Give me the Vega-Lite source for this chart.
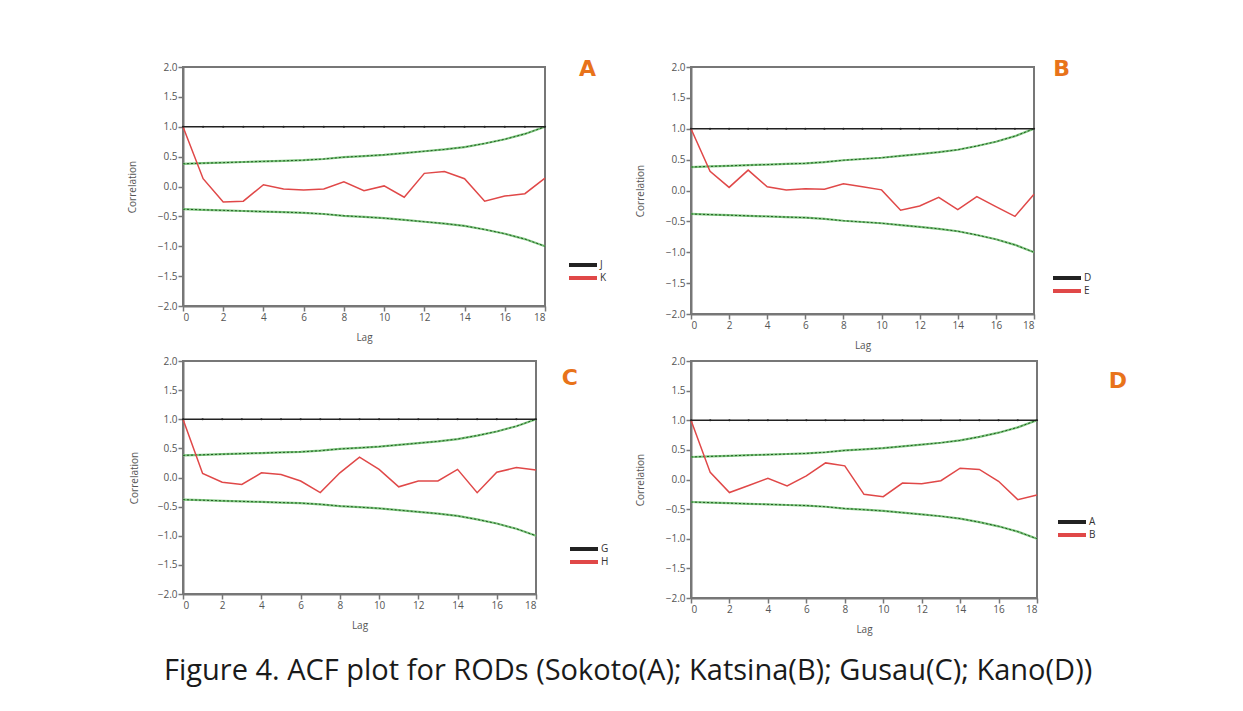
{
  "$schema": "https://vega.github.io/schema/vega-lite/v6.json",
  "background": "white",
  "padding": {"left": 126, "top": 57, "right": 10, "bottom": 10},
  "title": {"text": "Figure 4. ACF plot for RODs (Sokoto(A); Katsina(B); Gusau(C); Kano(D))", "orient": "bottom", "anchor": "middle", "offset": 22, "dx": 1, "fontSize": 29, "font": "Open Sans", "fontWeight": "normal", "color": "#1a1a1a"},
  "datasets": {
    "bands": [
      {"lag": 0, "upper": 0.38, "lower": -0.38},
      {"lag": 1, "upper": 0.39, "lower": -0.39},
      {"lag": 2, "upper": 0.40, "lower": -0.40},
      {"lag": 3, "upper": 0.41, "lower": -0.41},
      {"lag": 4, "upper": 0.42, "lower": -0.42},
      {"lag": 5, "upper": 0.43, "lower": -0.43},
      {"lag": 6, "upper": 0.44, "lower": -0.44},
      {"lag": 7, "upper": 0.46, "lower": -0.46},
      {"lag": 8, "upper": 0.49, "lower": -0.49},
      {"lag": 9, "upper": 0.51, "lower": -0.51},
      {"lag": 10, "upper": 0.53, "lower": -0.53},
      {"lag": 11, "upper": 0.56, "lower": -0.56},
      {"lag": 12, "upper": 0.59, "lower": -0.59},
      {"lag": 13, "upper": 0.62, "lower": -0.62},
      {"lag": 14, "upper": 0.66, "lower": -0.66},
      {"lag": 15, "upper": 0.72, "lower": -0.72},
      {"lag": 16, "upper": 0.79, "lower": -0.79},
      {"lag": 17, "upper": 0.88, "lower": -0.88},
      {"lag": 18, "upper": 1.0, "lower": -1.0}
    ],
    "sokoto": [
      {"lag": 0, "J": 1, "K": 1.0}, {"lag": 1, "J": 1, "K": 0.13}, {"lag": 2, "J": 1, "K": -0.26},
      {"lag": 3, "J": 1, "K": -0.245}, {"lag": 4, "J": 1, "K": 0.03}, {"lag": 5, "J": 1, "K": -0.04},
      {"lag": 6, "J": 1, "K": -0.06}, {"lag": 7, "J": 1, "K": -0.04}, {"lag": 8, "J": 1, "K": 0.08},
      {"lag": 9, "J": 1, "K": -0.07}, {"lag": 10, "J": 1, "K": 0.01}, {"lag": 11, "J": 1, "K": -0.18},
      {"lag": 12, "J": 1, "K": 0.22}, {"lag": 13, "J": 1, "K": 0.25}, {"lag": 14, "J": 1, "K": 0.13},
      {"lag": 15, "J": 1, "K": -0.245}, {"lag": 16, "J": 1, "K": -0.16}, {"lag": 17, "J": 1, "K": -0.12},
      {"lag": 18, "J": 1, "K": 0.14}
    ],
    "katsina": [
      {"lag": 0, "D": 1, "E": 1.0}, {"lag": 1, "D": 1, "E": 0.31}, {"lag": 2, "D": 1, "E": 0.05},
      {"lag": 3, "D": 1, "E": 0.33}, {"lag": 4, "D": 1, "E": 0.06}, {"lag": 5, "D": 1, "E": 0.01},
      {"lag": 6, "D": 1, "E": 0.03}, {"lag": 7, "D": 1, "E": 0.02}, {"lag": 8, "D": 1, "E": 0.11},
      {"lag": 9, "D": 1, "E": 0.06}, {"lag": 10, "D": 1, "E": 0.01}, {"lag": 11, "D": 1, "E": -0.32},
      {"lag": 12, "D": 1, "E": -0.25}, {"lag": 13, "D": 1, "E": -0.11}, {"lag": 14, "D": 1, "E": -0.31},
      {"lag": 15, "D": 1, "E": -0.10}, {"lag": 16, "D": 1, "E": -0.26}, {"lag": 17, "D": 1, "E": -0.42},
      {"lag": 18, "D": 1, "E": -0.06}
    ],
    "gusau": [
      {"lag": 0, "G": 1, "H": 1.0}, {"lag": 1, "G": 1, "H": 0.07}, {"lag": 2, "G": 1, "H": -0.08},
      {"lag": 3, "G": 1, "H": -0.12}, {"lag": 4, "G": 1, "H": 0.08}, {"lag": 5, "G": 1, "H": 0.05},
      {"lag": 6, "G": 1, "H": -0.06}, {"lag": 7, "G": 1, "H": -0.26}, {"lag": 8, "G": 1, "H": 0.08},
      {"lag": 9, "G": 1, "H": 0.35}, {"lag": 10, "G": 1, "H": 0.14}, {"lag": 11, "G": 1, "H": -0.16},
      {"lag": 12, "G": 1, "H": -0.06}, {"lag": 13, "G": 1, "H": -0.06}, {"lag": 14, "G": 1, "H": 0.14},
      {"lag": 15, "G": 1, "H": -0.26}, {"lag": 16, "G": 1, "H": 0.09}, {"lag": 17, "G": 1, "H": 0.17},
      {"lag": 18, "G": 1, "H": 0.13}
    ],
    "kano": [
      {"lag": 0, "A": 1, "B": 1.0}, {"lag": 1, "A": 1, "B": 0.12}, {"lag": 2, "A": 1, "B": -0.22},
      {"lag": 3, "A": 1, "B": -0.10}, {"lag": 4, "A": 1, "B": 0.02}, {"lag": 5, "A": 1, "B": -0.11},
      {"lag": 6, "A": 1, "B": 0.06}, {"lag": 7, "A": 1, "B": 0.28}, {"lag": 8, "A": 1, "B": 0.23},
      {"lag": 9, "A": 1, "B": -0.25}, {"lag": 10, "A": 1, "B": -0.29}, {"lag": 11, "A": 1, "B": -0.06},
      {"lag": 12, "A": 1, "B": -0.07}, {"lag": 13, "A": 1, "B": -0.02}, {"lag": 14, "A": 1, "B": 0.19},
      {"lag": 15, "A": 1, "B": 0.17}, {"lag": 16, "A": 1, "B": -0.03}, {"lag": 17, "A": 1, "B": -0.34},
      {"lag": 18, "A": 1, "B": -0.26}
    ]
  },
  "columns": 2,
  "align": "none",
  "spacing": {"row": 4, "column": 24},
  "resolve": {"scale": {"color": "independent"}, "legend": {"color": "independent"}},
  "concat": [
    {
      "width": 362, "height": 239,
      "title": {"text": "A", "anchor": "end", "frame": "group", "dx": 51, "dy": 23, "fontSize": 22, "font": "DejaVu Sans", "fontWeight": "bold", "color": "#e8731a"},
      "encoding": {
        "x": {"field": "lag", "type": "quantitative", "title": "Lag", "scale": {"domain": [0, 18], "nice": false}, "axis": {"values": [0, 2, 4, 6, 8, 10, 12, 14, 16, 18], "titlePadding": 10}},
        "y": {"field": "value", "type": "quantitative", "title": "Correlation", "scale": {"domain": [-2, 2], "nice": false}, "axis": {"values": [-2, -1.5, -1, -0.5, 0, 0.5, 1, 1.5, 2], "format": ".1f", "labelOverlap": false, "titlePadding": 20}}
      },
      "layer": [
        {"data": {"name": "bands"}, "transform": [{"fold": ["upper", "lower"], "as": ["bound", "value"]}], "mark": {"type": "line", "color": "#7cc47c", "strokeWidth": 2.2}, "encoding": {"detail": {"field": "bound"}}},
        {"data": {"name": "bands"}, "transform": [{"fold": ["upper", "lower"], "as": ["bound", "value"]}], "mark": {"type": "line", "color": "#1f5a1f", "strokeWidth": 1, "strokeDash": [2, 2]}, "encoding": {"detail": {"field": "bound"}}},
        {"data": {"name": "sokoto"}, "transform": [{"fold": ["J", "K"], "as": ["series", "value"]}], "mark": {"type": "line", "strokeWidth": 1.5}, "encoding": {"color": {"field": "series", "type": "nominal", "scale": {"domain": ["J", "K"], "range": ["#222222", "#e04848"]}, "legend": {"title": null, "orient": "none", "legendX": 384, "legendY": 192, "symbolStrokeWidth": 4}}}},
        {"data": {"name": "sokoto"}, "transform": [{"fold": ["J"], "as": ["series", "value"]}], "mark": {"type": "point", "filled": true, "size": 5, "color": "#222222", "opacity": 1}, "encoding": {}}
      ]
    },
    {
      "width": 343, "height": 247,
      "title": {"text": "B", "anchor": "end", "frame": "group", "dx": 36, "dy": 23, "fontSize": 22, "font": "DejaVu Sans", "fontWeight": "bold", "color": "#e8731a"},
      "encoding": {
        "x": {"field": "lag", "type": "quantitative", "title": "Lag", "scale": {"domain": [0, 18], "nice": false}, "axis": {"values": [0, 2, 4, 6, 8, 10, 12, 14, 16, 18], "titlePadding": 10}},
        "y": {"field": "value", "type": "quantitative", "title": "Correlation", "scale": {"domain": [-2, 2], "nice": false}, "axis": {"values": [-2, -1.5, -1, -0.5, 0, 0.5, 1, 1.5, 2], "format": ".1f", "labelOverlap": false, "titlePadding": 20}}
      },
      "layer": [
        {"data": {"name": "bands"}, "transform": [{"fold": ["upper", "lower"], "as": ["bound", "value"]}], "mark": {"type": "line", "color": "#7cc47c", "strokeWidth": 2.2}, "encoding": {"detail": {"field": "bound"}}},
        {"data": {"name": "bands"}, "transform": [{"fold": ["upper", "lower"], "as": ["bound", "value"]}], "mark": {"type": "line", "color": "#1f5a1f", "strokeWidth": 1, "strokeDash": [2, 2]}, "encoding": {"detail": {"field": "bound"}}},
        {"data": {"name": "katsina"}, "transform": [{"fold": ["D", "E"], "as": ["series", "value"]}], "mark": {"type": "line", "strokeWidth": 1.5}, "encoding": {"color": {"field": "series", "type": "nominal", "scale": {"domain": ["D", "E"], "range": ["#222222", "#e04848"]}, "legend": {"title": null, "orient": "none", "legendX": 360, "legendY": 205, "symbolStrokeWidth": 4}}}},
        {"data": {"name": "katsina"}, "transform": [{"fold": ["D"], "as": ["series", "value"]}], "mark": {"type": "point", "filled": true, "size": 5, "color": "#222222", "opacity": 1}, "encoding": {}}
      ]
    },
    {
      "width": 353, "height": 233,
      "title": {"text": "C", "anchor": "end", "frame": "group", "dx": 42, "dy": 38, "fontSize": 22, "font": "DejaVu Sans", "fontWeight": "bold", "color": "#e8731a"},
      "encoding": {
        "x": {"field": "lag", "type": "quantitative", "title": "Lag", "scale": {"domain": [0, 18], "nice": false}, "axis": {"values": [0, 2, 4, 6, 8, 10, 12, 14, 16, 18], "titlePadding": 10}},
        "y": {"field": "value", "type": "quantitative", "title": "Correlation", "scale": {"domain": [-2, 2], "nice": false}, "axis": {"values": [-2, -1.5, -1, -0.5, 0, 0.5, 1, 1.5, 2], "format": ".1f", "labelOverlap": false, "titlePadding": 18}}
      },
      "layer": [
        {"data": {"name": "bands"}, "transform": [{"fold": ["upper", "lower"], "as": ["bound", "value"]}], "mark": {"type": "line", "color": "#7cc47c", "strokeWidth": 2.2}, "encoding": {"detail": {"field": "bound"}}},
        {"data": {"name": "bands"}, "transform": [{"fold": ["upper", "lower"], "as": ["bound", "value"]}], "mark": {"type": "line", "color": "#1f5a1f", "strokeWidth": 1, "strokeDash": [2, 2]}, "encoding": {"detail": {"field": "bound"}}},
        {"data": {"name": "gusau"}, "transform": [{"fold": ["G", "H"], "as": ["series", "value"]}], "mark": {"type": "line", "strokeWidth": 1.5}, "encoding": {"color": {"field": "series", "type": "nominal", "scale": {"domain": ["G", "H"], "range": ["#222222", "#e04848"]}, "legend": {"title": null, "orient": "none", "legendX": 385, "legendY": 182, "symbolStrokeWidth": 4}}}},
        {"data": {"name": "gusau"}, "transform": [{"fold": ["G"], "as": ["series", "value"]}], "mark": {"type": "point", "filled": true, "size": 5, "color": "#222222", "opacity": 1}, "encoding": {}}
      ]
    },
    {
      "width": 346, "height": 237,
      "title": {"text": "D", "anchor": "end", "frame": "group", "dx": 90, "dy": 41, "fontSize": 22, "font": "DejaVu Sans", "fontWeight": "bold", "color": "#e8731a"},
      "encoding": {
        "x": {"field": "lag", "type": "quantitative", "title": "Lag", "scale": {"domain": [0, 18], "nice": false}, "axis": {"values": [0, 2, 4, 6, 8, 10, 12, 14, 16, 18], "titlePadding": 10}},
        "y": {"field": "value", "type": "quantitative", "title": "Correlation", "scale": {"domain": [-2, 2], "nice": false}, "axis": {"values": [-2, -1.5, -1, -0.5, 0, 0.5, 1, 1.5, 2], "format": ".1f", "labelOverlap": false, "titlePadding": 20}}
      },
      "layer": [
        {"data": {"name": "bands"}, "transform": [{"fold": ["upper", "lower"], "as": ["bound", "value"]}], "mark": {"type": "line", "color": "#7cc47c", "strokeWidth": 2.2}, "encoding": {"detail": {"field": "bound"}}},
        {"data": {"name": "bands"}, "transform": [{"fold": ["upper", "lower"], "as": ["bound", "value"]}], "mark": {"type": "line", "color": "#1f5a1f", "strokeWidth": 1, "strokeDash": [2, 2]}, "encoding": {"detail": {"field": "bound"}}},
        {"data": {"name": "kano"}, "transform": [{"fold": ["A", "B"], "as": ["series", "value"]}], "mark": {"type": "line", "strokeWidth": 1.5}, "encoding": {"color": {"field": "series", "type": "nominal", "scale": {"domain": ["A", "B"], "range": ["#222222", "#e04848"]}, "legend": {"title": null, "orient": "none", "legendX": 365, "legendY": 155, "symbolStrokeWidth": 4}}}},
        {"data": {"name": "kano"}, "transform": [{"fold": ["A"], "as": ["series", "value"]}], "mark": {"type": "point", "filled": true, "size": 5, "color": "#222222", "opacity": 1}, "encoding": {}}
      ]
    }
  ],
  "config": {
    "view": {"stroke": "#777777", "strokeWidth": 2, "fill": "white"},
    "axis": {"domainColor": "#777777", "domainWidth": 2, "tickColor": "#777777", "tickWidth": 1.5, "tickSize": 5, "labelFont": "Open Sans", "labelFontSize": 10, "labelColor": "#555555", "labelPadding": 1, "titleFont": "Open Sans", "titleFontSize": 10, "titleFontWeight": "normal", "titleColor": "#555555", "grid": false, "zindex": 1},
    "legend": {"symbolType": "stroke", "symbolSize": 784, "clipHeight": 12, "rowPadding": 1, "labelFont": "Open Sans", "labelFontSize": 10, "labelColor": "#333333", "labelOffset": 1, "padding": 0, "symbolOffset": 0}
  }
}
